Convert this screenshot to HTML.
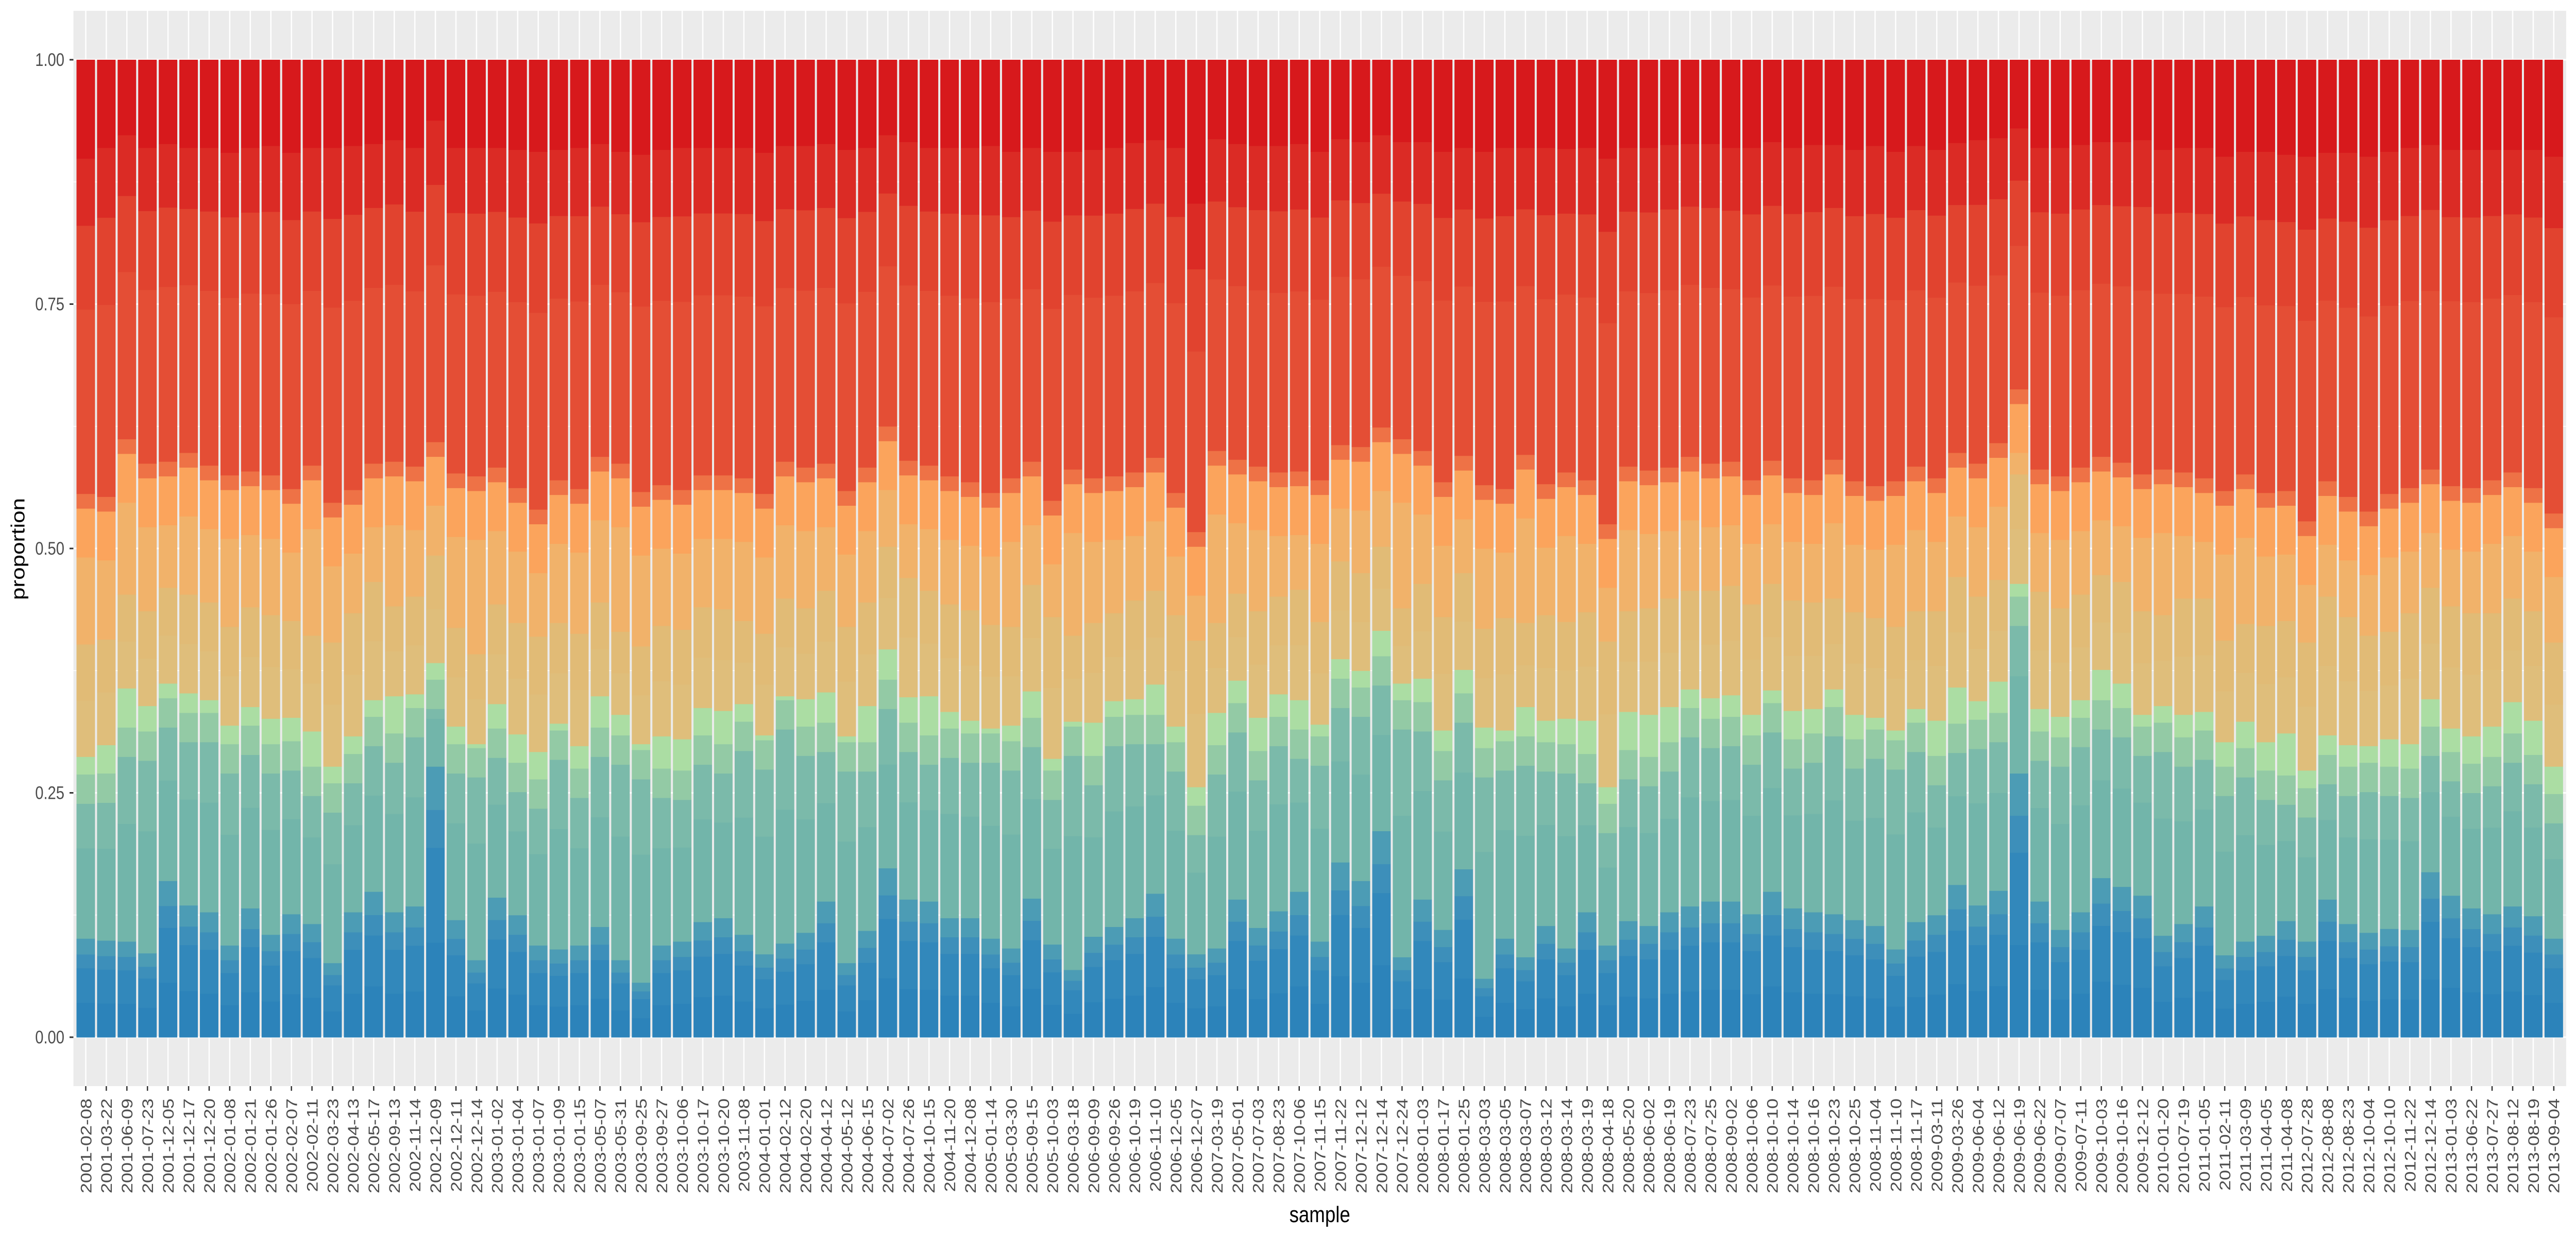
<!DOCTYPE html>
<html><head><meta charset="utf-8"><style>
html,body{margin:0;padding:0;background:#fff;overflow:hidden;width:100vw;height:100vh;}
svg{display:block;font-family:"Liberation Sans",Arial,sans-serif;width:100vw;height:100vh;}
</style></head><body>
<svg id="chart" viewBox="0 0 6000 2400" preserveAspectRatio="none" xmlns="http://www.w3.org/2000/svg">
<rect x="171" y="21" width="5806" height="2088" fill="#EBEBEB"/>
<g id="grid"></g>
<g id="bars"></g>
<g id="yaxis"></g>
<g id="xaxis"></g>
<text x="3074" y="2373" font-size="44" text-anchor="middle" fill="#000">sample</text>
<text transform="translate(57,1066) rotate(-90)" font-size="44" text-anchor="middle" fill="#000">proportion</text>
</svg>
<script>
const labels = ["2001-02-08","2001-03-22","2001-06-09","2001-07-23","2001-12-05","2001-12-17","2001-12-20","2002-01-08","2002-01-21","2002-01-26","2002-02-07","2002-02-11","2002-03-23","2002-04-13","2002-05-17","2002-09-13","2002-11-14","2002-12-09","2002-12-11","2002-12-14","2003-01-02","2003-01-04","2003-01-07","2003-01-09",
"2003-01-15","2003-05-07","2003-05-31","2003-09-25","2003-09-27","2003-10-06","2003-10-17","2003-10-20","2003-11-08","2004-01-01","2004-02-12","2004-02-20","2004-04-12","2004-05-12","2004-06-15","2004-07-02","2004-07-26","2004-10-15","2004-11-20","2004-12-08","2005-01-14","2005-03-30","2005-09-15","2005-10-03",
"2006-03-18","2006-09-09","2006-09-26","2006-10-19","2006-11-10","2006-12-05","2006-12-07","2007-03-19","2007-05-01","2007-07-03","2007-08-23","2007-10-06","2007-11-15","2007-11-22","2007-12-12","2007-12-14","2007-12-24","2008-01-03","2008-01-17","2008-01-25","2008-03-03","2008-03-05","2008-03-07","2008-03-12",
"2008-03-14","2008-03-19","2008-04-18","2008-05-20","2008-06-02","2008-06-19","2008-07-23","2008-07-25","2008-09-02","2008-10-06","2008-10-10","2008-10-14","2008-10-16","2008-10-23","2008-10-25","2008-11-04","2008-11-10","2008-11-17","2009-03-11","2009-03-26","2009-06-04","2009-06-12","2009-06-19","2009-06-22","2009-07-07",
"2009-07-11","2009-10-03","2009-10-16","2009-12-12","2010-01-20","2010-07-19","2011-01-05","2011-02-11","2011-03-09","2011-04-05","2011-04-08","2012-07-28","2012-08-08","2012-08-23","2012-10-04","2012-10-10","2012-11-22","2012-12-14","2013-01-03","2013-06-22","2013-07-27","2013-08-12","2013-08-19","2013-09-04"];
const blueTop = [.101,.099,.098,.086,.160,.135,.128,.094,.132,.105,.126,.116,.076,.128,.149,.128,.134,.277,.120,.079,.143,.125,.094,.090,
.094,.113,.079,.056,.094,.098,.118,.122,.105,.085,.096,.107,.139,.076,.109,.173,.141,.139,.122,.122,.101,.091,.142,.095,
.069,.103,.113,.122,.147,.101,.085,.091,.141,.112,.129,.149,.098,.179,.160,.211,.082,.141,.110,.172,.060,.101,.082,.114,
.091,.128,.094,.119,.114,.128,.134,.139,.139,.126,.149,.132,.128,.126,.120,.114,.090,.118,.125,.156,.135,.150,.270,.139,.110,
.128,.163,.154,.145,.104,.116,.134,.084,.098,.104,.119,.098,.141,.116,.107,.111,.110,.169,.145,.132,.126,.134,.124,.101];
const tealTop = [.269,.270,.317,.313,.347,.332,.332,.300,.319,.300,.303,.277,.260,.290,.328,.311,.337,.366,.300,.296,.316,.281,.264,.314,
.275,.317,.309,.294,.275,.273,.309,.300,.323,.304,.345,.318,.322,.302,.302,.366,.322,.309,.316,.311,.311,.303,.327,.273,
.318,.288,.328,.330,.330,.302,.237,.299,.342,.293,.328,.315,.308,.367,.358,.390,.345,.343,.293,.352,.296,.303,.308,.302,
.300,.290,.239,.294,.287,.302,.337,.326,.328,.309,.342,.305,.311,.338,.305,.315,.304,.322,.288,.321,.325,.332,.451,.313,.307,
.327,.345,.337,.318,.322,.307,.314,.277,.296,.273,.268,.255,.289,.277,.281,.277,.275,.318,.292,.280,.287,.311,.289,.249];
const greenTop = [.287,.299,.357,.339,.362,.352,.345,.319,.338,.326,.327,.313,.277,.308,.345,.349,.351,.383,.318,.300,.341,.310,.292,.321,
.298,.349,.330,.300,.308,.305,.337,.334,.341,.309,.349,.346,.353,.308,.339,.397,.348,.349,.333,.324,.316,.319,.354,.285,
.323,.322,.344,.346,.361,.318,.256,.332,.365,.327,.351,.345,.320,.387,.375,.416,.362,.367,.314,.376,.317,.314,.338,.324,
.326,.324,.256,.333,.330,.338,.356,.347,.350,.330,.355,.334,.336,.356,.330,.327,.314,.336,.324,.358,.344,.364,.464,.336,.328,
.345,.376,.362,.330,.339,.330,.333,.302,.323,.302,.311,.273,.309,.299,.298,.305,.300,.346,.316,.308,.318,.343,.324,.277];
const tanTop = [.402,.407,.453,.436,.460,.453,.445,.420,.440,.432,.426,.411,.404,.434,.466,.441,.451,.493,.419,.392,.443,.424,.410,.424,
.413,.445,.415,.400,.421,.417,.440,.438,.426,.413,.449,.439,.457,.420,.445,.502,.470,.457,.443,.437,.422,.420,.463,.430,
.411,.424,.434,.447,.457,.432,.406,.424,.454,.436,.451,.458,.425,.487,.475,.502,.439,.464,.430,.475,.418,.429,.424,.432,
.425,.435,.405,.436,.439,.449,.457,.457,.462,.443,.464,.447,.445,.449,.435,.429,.420,.436,.436,.471,.451,.468,.576,.456,.439,
.453,.473,.466,.436,.432,.449,.449,.406,.423,.421,.426,.404,.451,.430,.411,.415,.434,.460,.441,.434,.434,.449,.436,.404];
const orangeTop = [.556,.553,.612,.587,.589,.598,.585,.575,.579,.575,.561,.585,.547,.560,.587,.589,.584,.609,.577,.574,.583,.562,.540,.570,
.561,.594,.587,.558,.565,.560,.575,.575,.572,.556,.589,.583,.587,.559,.583,.625,.590,.585,.574,.568,.557,.572,.589,.549,
.581,.572,.574,.578,.593,.557,.517,.600,.591,.584,.578,.579,.570,.606,.604,.624,.612,.600,.568,.595,.565,.561,.596,.566,
.578,.570,.525,.584,.580,.583,.594,.587,.589,.570,.590,.572,.570,.591,.569,.564,.569,.584,.572,.598,.587,.608,.663,.581,.574,
.583,.594,.588,.576,.581,.578,.572,.559,.576,.557,.559,.528,.569,.553,.538,.556,.562,.581,.564,.562,.570,.578,.562,.536];
const redTop = [.899,.910,.923,.910,.914,.910,.910,.905,.910,.912,.905,.910,.910,.912,.914,.918,.910,.938,.910,.910,.910,.908,.906,.908,
.910,.914,.906,.903,.908,.910,.910,.910,.910,.905,.912,.912,.914,.908,.910,.923,.916,.910,.910,.910,.912,.906,.910,.906,
.906,.908,.910,.915,.918,.910,.853,.919,.914,.912,.912,.914,.906,.919,.916,.923,.916,.916,.906,.910,.906,.910,.910,.910,
.909,.910,.899,.910,.910,.913,.914,.914,.910,.910,.916,.910,.913,.913,.908,.912,.906,.912,.908,.915,.918,.920,.930,.910,.910,
.913,.916,.916,.918,.908,.910,.910,.901,.906,.906,.903,.901,.905,.905,.901,.906,.910,.913,.908,.908,.908,.908,.908,.901];
const yTicks = [0, 0.25, 0.5, 0.75, 1];
const yTickLabels = ["0.00","0.25","0.50","0.75","1.00"];

const NS = "http://www.w3.org/2000/svg";
const PX0 = 171, PX1 = 5977, PY0 = 21, PY1 = 2109;
const Y0 = 2014, Y1 = 116;
const n = labels.length;
const step = (PX1 - PX0) / (n - 1 + 1.2);
function xScale(i){ return PX0 + step * (0.6 + i); }
function yScale(v){ return Y0 + (Y1 - Y0) * v; }
function mk(tag, attrs, parent){ const e = document.createElementNS(NS, tag); for (const k in attrs) e.setAttribute(k, attrs[k]); parent.appendChild(e); return e; }

const grid = document.getElementById('grid');
for (let k = 0; k < 4; k++) {
  const v = 0.125 + k * 0.25;
  const l = mk('line', {x1: PX0, x2: PX1, y1: yScale(v), y2: yScale(v), stroke: '#fff', 'stroke-width': 1.5}, grid);
  
  
}
yTicks.forEach(v => {
  const l = mk('line', {x1: PX0, x2: PX1, y1: yScale(v), y2: yScale(v), stroke: '#fff', 'stroke-width': 3}, grid);
  
  
});
for (let i = 0; i < n; i++) {
  const l = mk('line', {x1: xScale(i), x2: xScale(i), y1: PY0, y2: PY1, stroke: '#fff', 'stroke-width': 3}, grid);
  
  
}

const bars = document.getElementById('bars');
const bw = step * 0.9;
for (let i = 0; i < n; i++) {
  const A = blueTop[i], B = tealTop[i], C = greenTop[i], D = tanTop[i], E = orangeTop[i], F = redTop[i];
  const segs = [
    [0, 0.35*A, '#2c83ba'], [0.35*A, 0.7*A, '#3288bb'], [0.7*A, 0.84*A, '#3d8fba'], [0.84*A, A, '#4c9cb5'],
    [A, A + 0.55*(B-A), '#72b5aa'], [A + 0.55*(B-A), B - 0.03, '#7bbaaa'], [B - 0.03, B, '#93caa5'],
    [B, C, '#abdda3'],
    [C, C + 0.5*(D-C), '#dfbe7b'], [C + 0.5*(D-C), D, '#e1bb76'],
    [D, E - 0.065, '#f1b26a'], [E - 0.065, E - 0.015, '#fba45c'], [E - 0.015, E, '#ee7246'],
    [E, E + 0.55*(F-E), '#e44e35'], [E + 0.55*(F-E), E + 0.8*(F-E), '#e1432f'], [E + 0.8*(F-E), F, '#db2b25'],
    [F, 1, '#d7191c']
  ];
  const g = mk('g', {}, bars);
  
  
  segs.forEach(s => {
    if (s[1] <= s[0]) return;
    const r = mk('rect', {x: xScale(i) - bw/2, y: yScale(s[1]), width: bw, height: yScale(s[0]) - yScale(s[1]) + 0.5, fill: s[2]}, g);
    
    
  });
}

const yaxis = document.getElementById('yaxis');
yTicks.forEach((v, k) => {
  const t = mk('line', {x1: 162, x2: 171, y1: yScale(v), y2: yScale(v), stroke: '#333', 'stroke-width': 3}, yaxis);
  
  
  const tx = mk('text', {x: 150, y: yScale(v) + 12, 'font-size': 35, 'text-anchor': 'end', fill: '#4d4d4d'}, yaxis);
  tx.textContent = yTickLabels[k];
  
  
});

const xaxis = document.getElementById('xaxis');
for (let i = 0; i < n; i++) {
  const x = xScale(i);
  const t = mk('line', {x1: x, x2: x, y1: PY1, y2: PY1 + 9, stroke: '#333', 'stroke-width': 3}, xaxis);
  
  
  const tx = mk('text', {transform: 'translate(' + (x + 13) + ',' + (PY1 + 24) + ') rotate(-90)', 'font-size': 36, 'text-anchor': 'end', fill: '#4d4d4d'}, xaxis);
  tx.textContent = labels[i];
  
  
}
</script>
</body></html>
